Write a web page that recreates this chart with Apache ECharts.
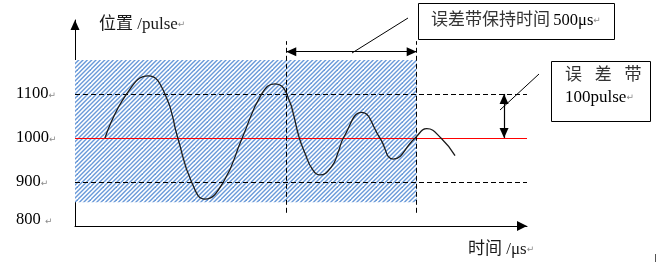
<!DOCTYPE html>
<html>
<head>
<meta charset="utf-8">
<script src="https://cdn.jsdelivr.net/npm/echarts@6/dist/echarts.min.js"></script>
<style>html,body{margin:0;padding:0;background:#fff;}#c{width:659px;height:263px;}</style>
</head>
<body>
<div id="c"></div>
<script>
// ---- data ----
const curveTime = [115, 198, 281, 345, 394, 447, 498, 569, 641, 716, 767, 812, 860, 882, 908, 939, 984, 1010, 1029, 1099, 1169, 1220, 1304, 1349, 1403, 1457];
const curvePos  = [1000, 1100, 1141, 1100, 1000, 900, 861, 900, 1000, 1100, 1123, 1100, 1000, 965, 931, 916, 935, 969, 1000, 1058, 1000, 952, 1000, 1021, 1000, 960];
const yTickValues = [800, 900, 1000, 1100];
const targetPos = 1000;
const errBand = [900, 1100];
const hatchRange = [854, 1177];
const holdWindow = [810, 1310];      // 500 µs
const holdArrowPos = 1196;
const holdLineRange = [830, 1220];
const errArrowTime = 1645;
const xRange = [0, 1733];
const yRange = [800, 1268];
const labels = {
  yName: '位置 /pulse',
  xName: '时间 /μs',
  holdCn: '误差带保持时间',
  holdEn: '500μs',
  bandCn: '误   差   带',
  bandEn: '100pulse'
};

// ---- hatch pattern ----
function makeHatch() {
  const n = 13, cv = document.createElement('canvas');
  cv.width = n; cv.height = n;
  const g = cv.getContext('2d');
  g.fillStyle = '#ffffff'; g.fillRect(0, 0, n, n);
  g.strokeStyle = '#6a9ad9'; g.lineWidth = 1.4;
  for (let k = -3; k <= 9; k++) {
    const c = k * n / 3; // line x + y = c
    g.beginPath(); g.moveTo(c + 2, -2); g.lineTo(c - n - 2, n + 2); g.stroke();
  }
  return cv;
}

const serif = "'Liberation Serif', 'Noto Sans CJK SC', serif";
const retStyle = { fontFamily: 'DejaVu Sans', fontSize: 9, color: '#8a8a8a', fill: '#8a8a8a' };
const chart = echarts.init(document.getElementById('c'));

const dashBlack = { type: [5, 3], color: '#000', width: 1 };

chart.setOption({
  animation: false,
  grid: { left: 75, right: 132, top: 20, bottom: 37 },
  xAxis: {
    type: 'value', min: xRange[0], max: xRange[1],
    axisLine: { show: true, symbol: ['none', 'triangle'], symbolSize: [10, 10], symbolOffset: [0, -5], lineStyle: { color: '#000', width: 1 } },
    axisTick: { show: false }, axisLabel: { show: false }, splitLine: { show: false }
  },
  yAxis: {
    type: 'value', min: yRange[0], max: yRange[1], interval: 100,
    axisLine: { show: true, symbol: ['none', 'triangle'], symbolSize: [9, 10], symbolOffset: [0, -5], lineStyle: { color: '#000', width: 1 } },
    axisTick: { show: false }, splitLine: { show: false },
    axisLabel: {
      show: true, align: 'left', margin: 59, showMaxLabel: false,
      formatter: v => {
        if (!yTickValues.includes(v)) return '';
        return v === 800 ? '{u|' + v + ' }{ru|↵}' : '{n|' + v + '}{r|↵}';
      },
      rich: {
        n: { fontFamily: serif, fontSize: 16.5, color: '#000' },
        r: { fontFamily: 'DejaVu Sans', fontSize: 9, color: '#8a8a8a', padding: [3, 0, 0, 0] },
        u: { fontFamily: serif, fontSize: 16.5, color: '#000', padding: [0, 0, 12, 0] },
        ru: { fontFamily: 'DejaVu Sans', fontSize: 9, color: '#8a8a8a', padding: [0, 0, 8, 0] }
      }
    }
  },
  series: [{
    type: 'line',
    data: curveTime.map((t, i) => [t, curvePos[i]]),
    smooth: 0.5,
    showSymbol: false, symbol: 'none',
    lineStyle: { color: '#1a1a1a', width: 1.3 },
    silent: true, z: 5,
    markArea: {
      silent: true,
      itemStyle: { color: { image: makeHatch(), repeat: 'repeat' }, opacity: 1, borderWidth: 0 },
      data: [[{ coord: [xRange[0], hatchRange[1]] }, { coord: [holdWindow[1], hatchRange[0]] }]]
    },
    markLine: {
      silent: true, symbol: 'none', label: { show: false },
      data: [
        { yAxis: targetPos, lineStyle: { type: 'solid', color: '#ff0000', width: 1 } },
        { yAxis: errBand[1], lineStyle: dashBlack },
        { yAxis: errBand[0], lineStyle: dashBlack },
        [{ coord: [holdWindow[0], holdLineRange[0]], lineStyle: dashBlack }, { coord: [holdWindow[0], holdLineRange[1]] }],
        [{ coord: [holdWindow[1], holdLineRange[0]], lineStyle: dashBlack }, { coord: [holdWindow[1], holdLineRange[1]] }]
      ]
    }
  }, {
    type: 'line', data: [], silent: true, z: 6,
    markLine: {
      silent: true, label: { show: false },
      symbol: ['triangle', 'triangle'], symbolSize: [9, 10], symbolOffset: [[0, 5], [0, 5]],
      lineStyle: { type: 'solid', color: '#000', width: 1.2 },
      data: [
        [{ coord: [holdWindow[0], holdArrowPos] }, { coord: [holdWindow[1], holdArrowPos] }],
        [{ coord: [errArrowTime, errBand[1]] }, { coord: [errArrowTime, targetPos] }]
      ]
    }
  }],
  graphic: [
    { type: 'text', left: 99, top: 16, style: { text: '{c|' + labels.yName + '}{r|↵}', rich: { c: { fontFamily: serif, fontSize: 17, fill: '#1a1a1a' }, r: retStyle } } },
    { type: 'text', left: 468, top: 241, style: { text: '{c|' + labels.xName + '}{r|↵}', rich: { c: { fontFamily: serif, fontSize: 17, fill: '#1a1a1a' }, r: retStyle } } },
    { type: 'rect', shape: { x: 418.5, y: 3.5, width: 196, height: 36 }, style: { fill: '#fff', stroke: '#000', lineWidth: 1 } },
    { type: 'text', left: 431, top: 12, style: { text: '{c|' + labels.holdCn + '} {n|' + labels.holdEn + '}{r|↵}', rich: { c: { fontFamily: serif, fontSize: 17, fill: '#333' }, n: { fontFamily: serif, fontSize: 16.5, fill: '#000' }, r: retStyle } } },
    { type: 'line', shape: { x1: 408, y1: 18, x2: 352, y2: 53 }, style: { stroke: '#000', lineWidth: 1 } },
    { type: 'rect', shape: { x: 551.5, y: 61.5, width: 99, height: 60 }, style: { fill: '#fff', stroke: '#000', lineWidth: 1 } },
    { type: 'text', left: 565, top: 67, style: { text: labels.bandCn, fontFamily: serif, fontSize: 17, fill: '#333' } },
    { type: 'text', left: 565, top: 89, style: { text: '{n|' + labels.bandEn + '}{r|↵}', rich: { n: { fontFamily: serif, fontSize: 17, fill: '#000' }, r: retStyle } } },
    { type: 'line', shape: { x1: 539, y1: 74, x2: 500, y2: 110 }, style: { stroke: '#000', lineWidth: 1 } },
    { type: 'line', shape: { x1: 655.5, y1: 254, x2: 655.5, y2: 262 }, style: { stroke: '#555', lineWidth: 1 } }
  ]
});
</script>
</body>
</html>
